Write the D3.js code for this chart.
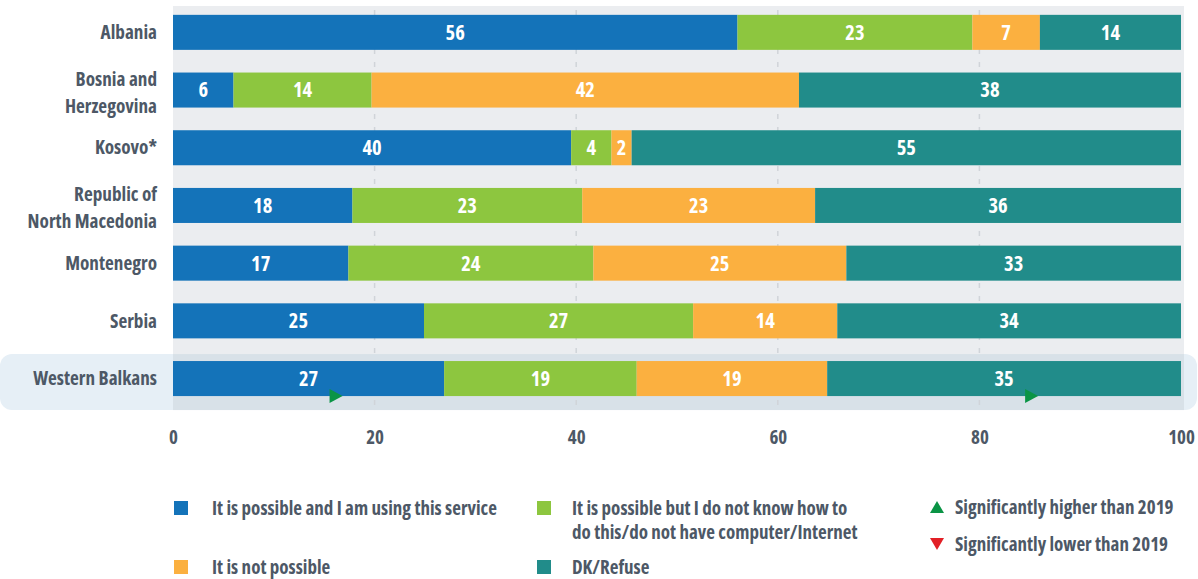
<!DOCTYPE html>
<html>
<head>
<meta charset="utf-8">
<script src="https://cdn.jsdelivr.net/npm/d3@7"></script>
<style>
  html, body { margin: 0; padding: 0; background: #ffffff; }
  svg { display: block; }
  text { font-family: "Open Sans", sans-serif; font-stretch: condensed; font-weight: bold; }
</style>
</head>
<body>
<svg id="chart" width="1198" height="579"></svg>
<script>
// ---- data ----
const categories = ["Albania", "Bosnia and Herzegovina", "Kosovo*", "Republic of North Macedonia", "Montenegro", "Serbia", "Western Balkans"];
const categoryLines = [["Albania"], ["Bosnia and", "Herzegovina"], ["Kosovo*"], ["Republic of", "North Macedonia"], ["Montenegro"], ["Serbia"], ["Western Balkans"]];
const seriesNames = ["It is possible and I am using this service", "It is possible but I do not know how to do this/do not have computer/Internet", "It is not possible", "DK/Refuse"];
const usingService   = [56, 6.0, 39.5, 17.8, 17.4, 24.9, 26.9];
const notKnowHow     = [23.3, 13.7, 4, 22.8, 24.3, 26.7, 19.1];
const notPossible    = [6.7, 42.4, 2, 23.1, 25.1, 14.3, 18.9];
const dkRefuse       = [14, 37.9, 54.5, 36.3, 33.2, 34.1, 35.1];
const xTicks = [0, 20, 40, 60, 80, 100];
// significance markers: [category, series index] higher than 2019
const sigHigher = [["Western Balkans", 0], ["Western Balkans", 3]];
const legendSig = ["Significantly higher than 2019", "Significantly lower than 2019"];

const colors = ["#1473b9", "#8dc63f", "#fbb040", "#218c8a"];
const textColor = "#4d5866";

const svg = d3.select("#chart");
const x = d3.scaleLinear().domain([0, 100]).range([173, 1181]);
const y = d3.scaleBand().domain(categories).range([3.5, 407.4]).paddingInner(0.393).paddingOuter(0.1965);

const series = [usingService, notKnowHow, notPossible, dkRefuse];
const rows = categories.map((c, i) => {
  const o = { cat: c };
  series.forEach((s, j) => o["s" + j] = s[i]);
  return o;
});
const stack = d3.stack().keys(["s0", "s1", "s2", "s3"])(rows);

// highlight for Western Balkans
const wb = "Western Balkans";
const hlTop = y(wb) - 7, hlBot = y(wb) + y.bandwidth() + 14;
svg.append("rect").attr("x", 0).attr("y", hlTop).attr("width", 1197).attr("height", hlBot - hlTop)
  .attr("rx", 12).attr("fill", "#e6eff6");

// plot background
const bgTop = 6, bgRight = x(100) + 3;
svg.append("rect").attr("x", x(0)).attr("y", bgTop).attr("width", bgRight - x(0)).attr("height", hlTop - bgTop)
  .attr("fill", "#ebedf0");
svg.append("rect").attr("x", x(0)).attr("y", hlTop).attr("width", bgRight - x(0)).attr("height", hlBot - hlTop)
  .attr("fill", "#d8e1e8");

// grid lines
svg.append("g").selectAll("line").data(xTicks.filter(t => t > 0 && t < 100)).join("line")
  .attr("x1", d => x(d)).attr("x2", d => x(d))
  .attr("y1", bgTop + 4).attr("y2", hlBot)
  .attr("stroke", "#d0d4d9").attr("stroke-width", 1.5).attr("stroke-dasharray", "5,8");

// bars
const layers = svg.append("g").selectAll("g").data(stack).join("g").attr("fill", (d, i) => colors[i]);
layers.selectAll("rect").data(d => d).join("rect")
  .attr("x", d => x(d[0]))
  .attr("y", d => y(d.data.cat))
  .attr("width", d => x(d[1]) - x(d[0]))
  .attr("height", y.bandwidth());

// value labels
stack.forEach((layer, j) => {
  svg.append("g").selectAll("text").data(layer).join("text")
    .attr("x", d => (x(d[0]) + x(d[1])) / 2)
    .attr("y", d => y(d.data.cat) + y.bandwidth() / 2)
    .attr("dy", "0.36em")
    .attr("text-anchor", "middle")
    .attr("fill", "#ffffff")
    .attr("font-size", 20.5)
    .text(d => Math.round(d[1] - d[0]));
});

// significance markers (right-pointing green triangles as in the source)
sigHigher.forEach(([cat, j]) => {
  const seg = stack[j].find(d => d.data.cat === cat);
  const cx = (x(seg[0]) + x(seg[1])) / 2 + 27;
  const cy = y(cat) + y.bandwidth();
  svg.append("path")
    .attr("d", `M${cx - 6},${cy - 7} L${cx + 7},${cy} L${cx - 6},${cy + 7} Z`)
    .attr("fill", "#0a9445");
});

// category labels
const catG = svg.append("g");
categories.forEach((c, i) => {
  const lines = categoryLines[i];
  const cy = y(c) + y.bandwidth() / 2;
  const t = catG.append("text").attr("text-anchor", "end").attr("fill", textColor).attr("font-size", 19.2);
  if (lines.length === 1) {
    t.append("tspan").attr("x", 157).attr("y", cy).attr("dy", "0.35em").text(lines[0]);
  } else {
    t.append("tspan").attr("x", 157).attr("y", cy - 11).attr("dy", "0.35em").text(lines[0]);
    t.append("tspan").attr("x", 157).attr("y", cy + 16).attr("dy", "0.35em").text(lines[1]);
  }
});

// x axis tick labels
const axis = d3.axisBottom(x).tickValues(xTicks).tickSize(0).tickPadding(0).tickFormat(d3.format("d"));
const axG = svg.append("g").attr("transform", "translate(0,430)").call(axis);
axG.select(".domain").remove();
axG.selectAll("text").attr("fill", textColor).attr("font-size", 19)
  .attr("font-family", '"Open Sans", sans-serif').attr("font-weight", "bold").style("font-stretch", "condensed");

// legend
const legendItems = [
  { i: 0, sx: 174, sy: 508, tx: 212, lines: ["It is possible and I am using this service"] },
  { i: 1, sx: 537, sy: 508, tx: 572, lines: ["It is possible but I do not know how to", "do this/do not have computer/Internet"] },
  { i: 2, sx: 174, sy: 567, tx: 212, lines: [seriesNames[2]] },
  { i: 3, sx: 537, sy: 567, tx: 572, lines: [seriesNames[3]] }
];
const lg = svg.append("g");
legendItems.forEach(it => {
  lg.append("rect").attr("x", it.sx).attr("y", it.sy - 7).attr("width", 14).attr("height", 14).attr("fill", colors[it.i]);
  it.lines.forEach((ln, k) => {
    lg.append("text").attr("x", it.tx).attr("y", it.sy + k * 24).attr("dy", "0.35em")
      .attr("fill", textColor).attr("font-size", 19).text(ln);
  });
});
// significance legend
const sigY = [507, 544];
lg.append("path").attr("d", `M${937 - 7},${sigY[0] + 6} L${937 + 7},${sigY[0] + 6} L937,${sigY[0] - 6} Z`).attr("fill", "#0a9445");
lg.append("path").attr("d", `M${937 - 7},${sigY[1] - 6} L${937 + 7},${sigY[1] - 6} L937,${sigY[1] + 6} Z`).attr("fill", "#e21f26");
legendSig.forEach((t, k) => {
  lg.append("text").attr("x", 955).attr("y", sigY[k]).attr("dy", "0.35em")
    .attr("fill", textColor).attr("font-size", 19).text(t);
});
</script>
</body>
</html>
